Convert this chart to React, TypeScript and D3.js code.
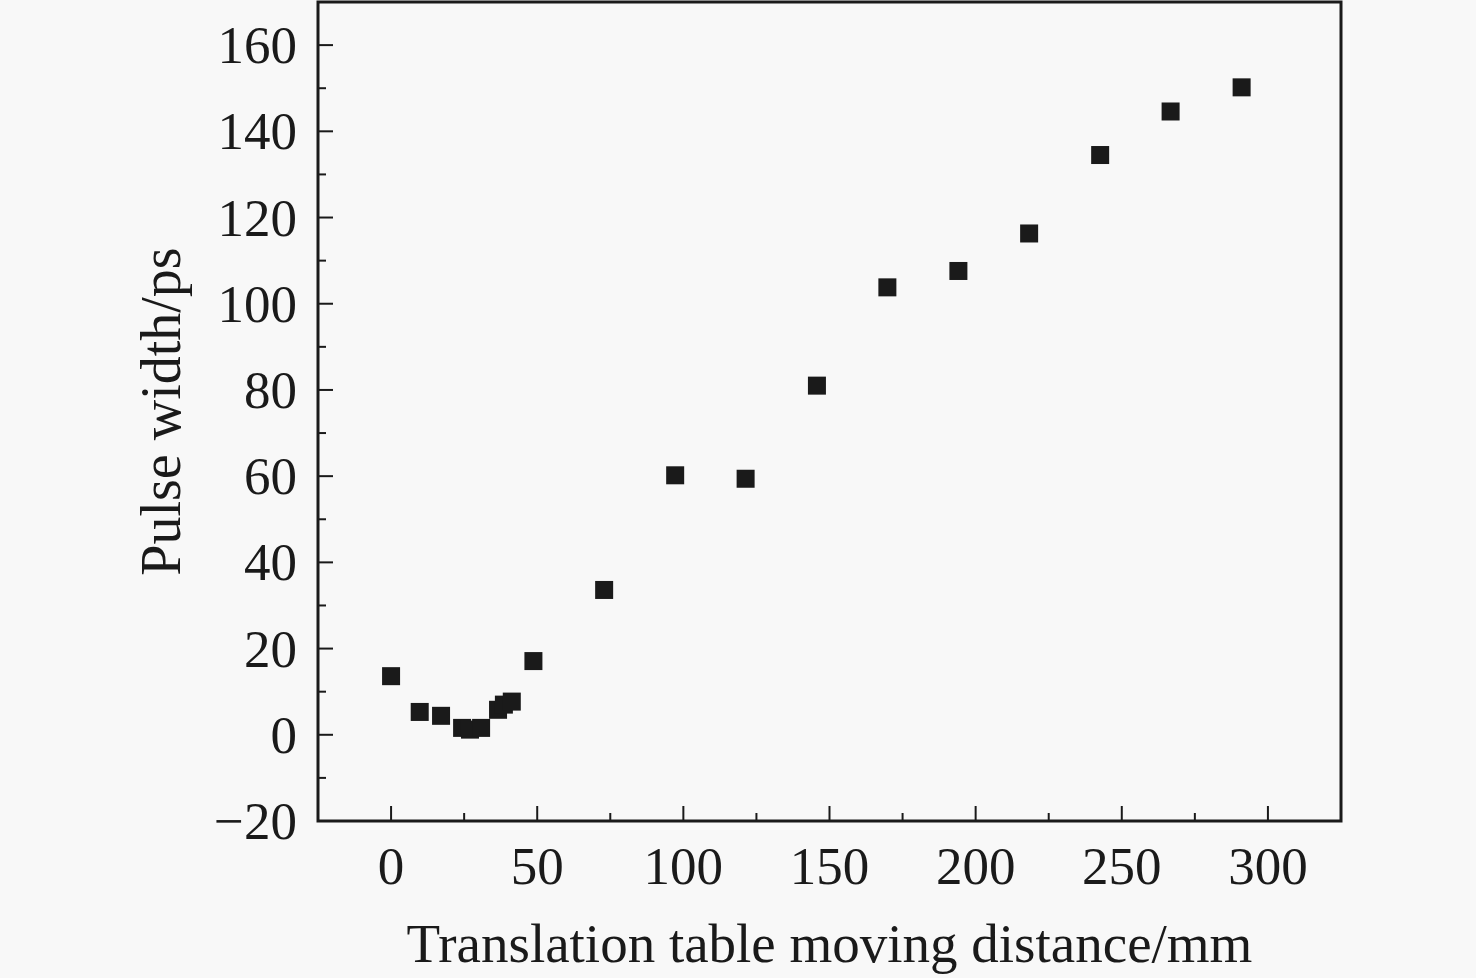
import {useMemo} from "react";
import * as d3 from "d3";

const WIDTH = 1476;
const HEIGHT = 978;
const MARGIN = {top: 2, right: 135, bottom: 157, left: 318};

// distance (mm) vs measured pulse width (ps)
const distance = [0, 9.8, 17.1, 24.3, 27, 30.8, 36.6, 38.6, 41.3, 48.7, 72.9, 97.2, 121.3, 145.7, 169.8, 194.1, 218.3, 242.6, 266.7, 291];
const pulseWidth = [13.6, 5.3, 4.4, 1.6, 1.2, 1.6, 5.8, 7.0, 7.7, 17.1, 33.6, 60.2, 59.4, 81.0, 103.8, 107.6, 116.3, 134.5, 144.6, 150.2];

const xTicks = [0, 50, 100, 150, 200, 250, 300];
const xMinorTicks = [25, 75, 125, 175, 225, 275];
const yTicks = [-20, 0, 20, 40, 60, 80, 100, 120, 140, 160];
const yMinorTicks = [-10, 10, 30, 50, 70, 90, 110, 130, 150];

const FONT = "'Liberation Serif', 'Times New Roman', serif";
const INK = "#1a1a1a";

export default function App() {
    const boundsWidth = WIDTH - MARGIN.left - MARGIN.right;
    const boundsHeight = HEIGHT - MARGIN.top - MARGIN.bottom;

    const xScale = useMemo(() => d3.scaleLinear().domain([-25, 325]).range([0, boundsWidth]), [boundsWidth]);
    const yScale = useMemo(() => d3.scaleLinear().domain([-20, 170]).range([boundsHeight, 0]), [boundsHeight]);

    const fmt = (v: number) => (v < 0 ? "\u2212" + Math.abs(v) : String(v));
    const size = 18;

    return (
        <svg width={WIDTH} height={HEIGHT} style={{position: "absolute", left: 0, top: 0, background: "#f8f8f8"}}>
            <rect width={WIDTH} height={HEIGHT} fill="#f8f8f8"/>
            <g transform={`translate(${MARGIN.left},${MARGIN.top})`}>
                {/* markers */}
                {distance.map((d, i) => (
                    <rect
                        key={i}
                        x={xScale(d) - size / 2}
                        y={yScale(pulseWidth[i]) - size / 2}
                        width={size}
                        height={size}
                        fill={INK}
                    />
                ))}

                {/* inward ticks */}
                {xTicks.map((t) => (
                    <line key={"xt" + t} x1={xScale(t)} x2={xScale(t)} y1={boundsHeight} y2={boundsHeight - 15}
                          stroke={INK} strokeWidth={2}/>
                ))}
                {xMinorTicks.map((t) => (
                    <line key={"xm" + t} x1={xScale(t)} x2={xScale(t)} y1={boundsHeight} y2={boundsHeight - 8}
                          stroke={INK} strokeWidth={2}/>
                ))}
                {yTicks.map((t) => (
                    <line key={"yt" + t} x1={0} x2={15} y1={yScale(t)} y2={yScale(t)} stroke={INK} strokeWidth={2}/>
                ))}
                {yMinorTicks.map((t) => (
                    <line key={"ym" + t} x1={0} x2={8} y1={yScale(t)} y2={yScale(t)} stroke={INK} strokeWidth={2}/>
                ))}

                {/* frame */}
                <rect x={0} y={0} width={boundsWidth} height={boundsHeight} fill="none" stroke={INK} strokeWidth={3}/>

                {/* tick labels */}
                {xTicks.map((t) => (
                    <text key={"xl" + t} x={xScale(t)} y={boundsHeight + 45} textAnchor="middle"
                          dominantBaseline="central" fontFamily={FONT} fontSize={53} fill={INK}>
                        {fmt(t)}
                    </text>
                ))}
                {yTicks.map((t) => (
                    <text key={"yl" + t} x={-21} y={yScale(t)} textAnchor="end" dominantBaseline="central"
                          fontFamily={FONT} fontSize={53} fill={INK}>
                        {fmt(t)}
                    </text>
                ))}

                {/* axis titles */}
                <text x={boundsWidth / 2} y={boundsHeight + 122} textAnchor="middle" dominantBaseline="central"
                      fontFamily={FONT} fontSize={55} fill={INK}>
                    Translation table moving distance/mm
                </text>
                <text transform={`translate(${-157},${boundsHeight / 2}) rotate(-90)`} textAnchor="middle"
                      dominantBaseline="central" fontFamily={FONT} fontSize={56} fill={INK}>
                    Pulse width/ps
                </text>
            </g>
        </svg>
    );
}
